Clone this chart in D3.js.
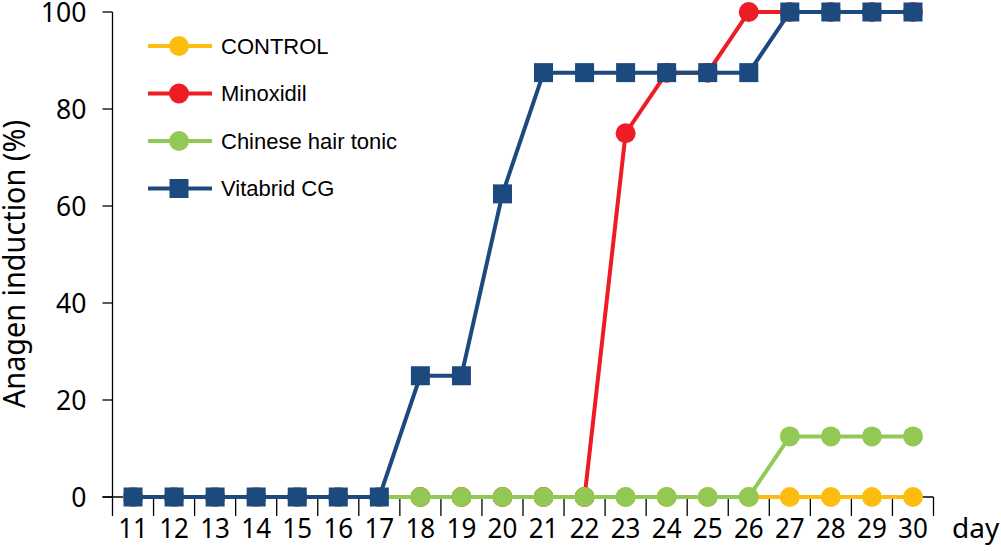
<!DOCTYPE html>
<html><head><meta charset="utf-8">
<script src="https://cdn.jsdelivr.net/npm/d3@7"></script>
<style>body{margin:0;background:#fff}svg{display:block}</style>
</head><body>
<script>
const days = [11,12,13,14,15,16,17,18,19,20,21,22,23,24,25,26,27,28,29,30];
const control   = [0,0,0,0,0,0,0,0,0,0,0,0,0,0,0,0,0,0,0,0];
const minoxidil = [0,0,0,0,0,0,0,0,0,0,0,0,75,87.5,87.5,100,100,100,100,100];
const chinese   = [0,0,0,0,0,0,0,0,0,0,0,0,0,0,0,0,12.5,12.5,12.5,12.5];
const vitabrid  = [0,0,0,0,0,0,0,25,25,62.5,87.5,87.5,87.5,87.5,87.5,87.5,100,100,100,100];
const yTicks = [0,20,40,60,80,100];
const seriesNames = ["CONTROL","Minoxidil","Chinese hair tonic","Vitabrid CG"];
const seriesColors = ["#fdbd10","#ee1c25","#92c955","#1c4a7e"];
const seriesShapes = ["circle","circle","circle","square"];
const seriesValues = [control, minoxidil, chinese, vitabrid];

const W = 1001, H = 551;
const svg = d3.select("body").append("svg").attr("width", W).attr("height", H);
const x = d3.scaleBand().domain(days).range([112.5, 933.5]).padding(0);
const y = d3.scaleLinear().domain([0,100]).range([497, 12]);
const numFont = "'Noto Sans', sans-serif";

// y axis
const ax = svg.append("g").attr("stroke","#000").attr("stroke-width",1.3);
ax.append("line").attr("x1",x.range()[0]).attr("x2",x.range()[0]).attr("y1",y(100)).attr("y2",y(0)+19);
yTicks.forEach(t=>{
  ax.append("line").attr("x1",x.range()[0]-10).attr("x2",x.range()[0]).attr("y1",y(t)).attr("y2",y(t));
});
svg.append("g").selectAll("g").data(yTicks).join("g")
  .attr("transform", d=>`translate(${x.range()[0]-26},${y(d)}) scale(0.95,1)`)
  .append("text").attr("dy","0.36em")
  .attr("text-anchor","end").attr("font-family",numFont).attr("font-size",28)
  .text(d=>d);
// x axis
ax.append("line").attr("x1",x.range()[0]-10).attr("x2",x.range()[1]).attr("y1",y(0)).attr("y2",y(0));
days.forEach(d=>{
  const bx = x(d)+x.bandwidth();
  ax.append("line").attr("x1",bx).attr("x2",bx).attr("y1",y(0)).attr("y2",y(0)+19);
});
svg.append("g").selectAll("g").data(days).join("g")
  .attr("transform", d=>`translate(${x(d)+x.bandwidth()/2},538) scale(0.93,1)`)
  .append("text")
  .attr("text-anchor","middle").attr("font-family",numFont).attr("font-size",28)
  .text(d=>d);
svg.append("text").attr("x",952).attr("y",538).attr("font-family",numFont).attr("font-size",28).text("day");
svg.append("text").attr("transform","translate(25,264) rotate(-90) scale(0.93,1)")
  .attr("text-anchor","middle").attr("font-family",numFont).attr("font-size",31)
  .text("Anagen induction (%)");

// series
const line = d3.line().x((d,i)=>x(days[i])+x.bandwidth()/2).y(d=>y(d));
function marker(g, shape, cx, cy, color){
  if(shape==="circle") g.append("circle").attr("cx",cx).attr("cy",cy).attr("r",10).attr("fill",color);
  else g.append("rect").attr("x",cx-9.5).attr("y",cy-9.5).attr("width",19).attr("height",19).attr("fill",color);
}
seriesValues.forEach((vals,si)=>{
  const g = svg.append("g");
  g.append("path").attr("d", line(vals)).attr("fill","none").attr("stroke",seriesColors[si]).attr("stroke-width",4);
  vals.forEach((v,i)=>marker(g, seriesShapes[si], x(days[i])+x.bandwidth()/2, y(v), seriesColors[si]));
});

// legend
const legY = d3.scalePoint().domain(seriesNames).range([46,188.5]);
seriesNames.forEach((n,si)=>{
  const g = svg.append("g");
  const yy = legY(n);
  g.append("line").attr("x1",148).attr("x2",212).attr("y1",yy).attr("y2",yy).attr("stroke",seriesColors[si]).attr("stroke-width",4);
  marker(g, seriesShapes[si], 179, yy, seriesColors[si]);
  g.append("text").attr("x",221).attr("y",yy).attr("dy","0.36em")
    .attr("font-family","'Liberation Sans', Arial, sans-serif").attr("font-size",22).text(n);
});
</script>
</body></html>
